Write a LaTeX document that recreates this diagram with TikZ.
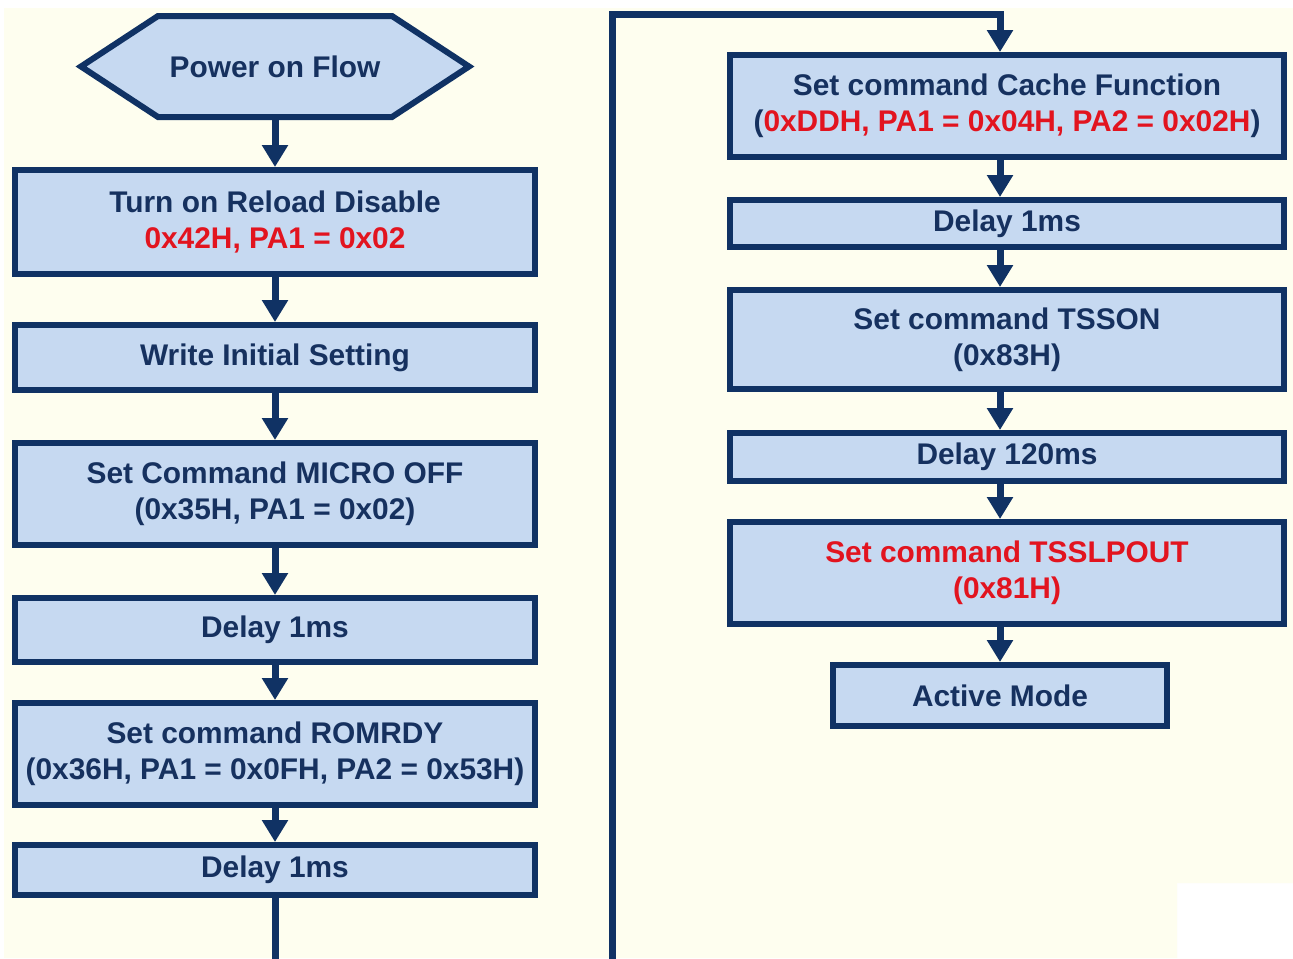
\documentclass[tikz,border=0pt]{standalone}
\usepackage{fontspec}
\setmainfont{Liberation Sans}
\usetikzlibrary{arrows.meta}
\definecolor{navy}{HTML}{103264}
\definecolor{txt}{HTML}{16315F}
\definecolor{boxfill}{HTML}{C6D9F1}
\definecolor{cream}{HTML}{FEFEEF}
\definecolor{myred}{HTML}{E2141F}
\begin{document}
\begin{tikzpicture}[x=0.02cm,y=-0.02cm,
  fbox/.style={draw=navy, line width=0.12cm, fill=boxfill, inner sep=0pt, align=center, text=txt, font=\bfseries\fontsize{17}{20.5}\selectfont},
  lbox/.style={fbox, minimum width=10.4cm},
  rbox/.style={fbox, minimum width=11.08cm},
  conn/.style={draw=navy, line width=0.14cm, line join=miter},
  arr/.style={conn, -{Triangle[width=0.5cm,length=0.44cm]}},
  hexshape/.style={draw=navy, line width=0.12cm, fill=boxfill, line join=miter},
  hextext/.style={inner sep=0pt, outer sep=0pt, text=txt, font=\bfseries\fontsize{17}{20.5}\selectfont}
]
\useasboundingbox (0,0) rectangle (1293,958);
\clip (0,0) rectangle (1293,958);
% background
\fill[white] (0,0) rectangle (1293,958);
\fill[cream] (4,8) -- (1293,8) -- (1293,883) -- (1177,883) -- (1177,958) -- (4,958) -- cycle;

% hexagon
\draw[hexshape] (81,66.5) -- (158,16) -- (392,16) -- (469,66.5) -- (392,117) -- (158,117) -- cycle;
\node[hextext, minimum width=7.76cm, minimum height=2.14cm] (hex) at (275,66.5) {Power on Flow};

% left column
\node[lbox, minimum height=2.08cm] (L1) at (275,222) {Turn on Reload Disable\\\textcolor{myred}{0x42H, PA1 = 0x02}};
\node[lbox, minimum height=1.30cm] (L2) at (275,357.5) {Write Initial Setting};
\node[lbox, minimum height=2.04cm] (L3) at (275,494) {Set Command MICRO OFF\\(0x35H, PA1 = 0x02)};
\node[lbox, minimum height=1.28cm] (L4) at (275,630) {Delay 1ms};
\node[lbox, minimum height=2.04cm] (L5) at (275,754) {Set command ROMRDY\\(0x36H, PA1 = 0x0FH, PA2 = 0x53H)};
\node[lbox, minimum height=1.00cm] (L6) at (275,870) {Delay 1ms};

% right column
\node[rbox, minimum height=2.04cm] (R1) at (1007,106) {Set command Cache Function\\(\textcolor{myred}{0xDDH, PA1 = 0x04H, PA2 = 0x02H})};
\node[rbox, minimum height=0.94cm] (R2) at (1007,223.5) {Delay 1ms};
\node[rbox, minimum height=1.98cm] (R3) at (1007,339.5) {Set command TSSON\\(0x83H)};
\node[rbox, minimum height=0.96cm] (R4) at (1007,457) {Delay 120ms};
\node[rbox, minimum height=2.04cm] (R5) at (1007,573) {\textcolor{myred}{Set command TSSLPOUT}\\\textcolor{myred}{(0x81H)}};
\node[fbox, minimum width=6.68cm, minimum height=1.22cm] (R6) at (1000,695.5) {Active Mode};

% route coordinates
\coordinate (ax) at (1000,0);
\coordinate (c1) at (275,980);
\coordinate (c2) at (612,980);
\coordinate (c3) at (612,14);
\coordinate (c4) at (1000,14);

% left connectors
\draw[arr] (hex.south) -- (L1.north);
\draw[arr] (L1.south) -- (L2.north);
\draw[arr] (L2.south) -- (L3.north);
\draw[arr] (L3.south) -- (L4.north);
\draw[arr] (L4.south) -- (L5.north);
\draw[arr] (L5.south) -- (L6.north);
\draw[arr] (L6.south) -- (c1) -- (c2) -- (c3) -- (c4) -- (R1.north -| c4);

% right connectors
\draw[arr] (R1.south -| ax) -- (R2.north -| ax);
\draw[arr] (R2.south -| ax) -- (R3.north -| ax);
\draw[arr] (R3.south -| ax) -- (R4.north -| ax);
\draw[arr] (R4.south -| ax) -- (R5.north -| ax);
\draw[arr] (R5.south -| ax) -- (R6.north -| ax);
\end{tikzpicture}
\end{document}
